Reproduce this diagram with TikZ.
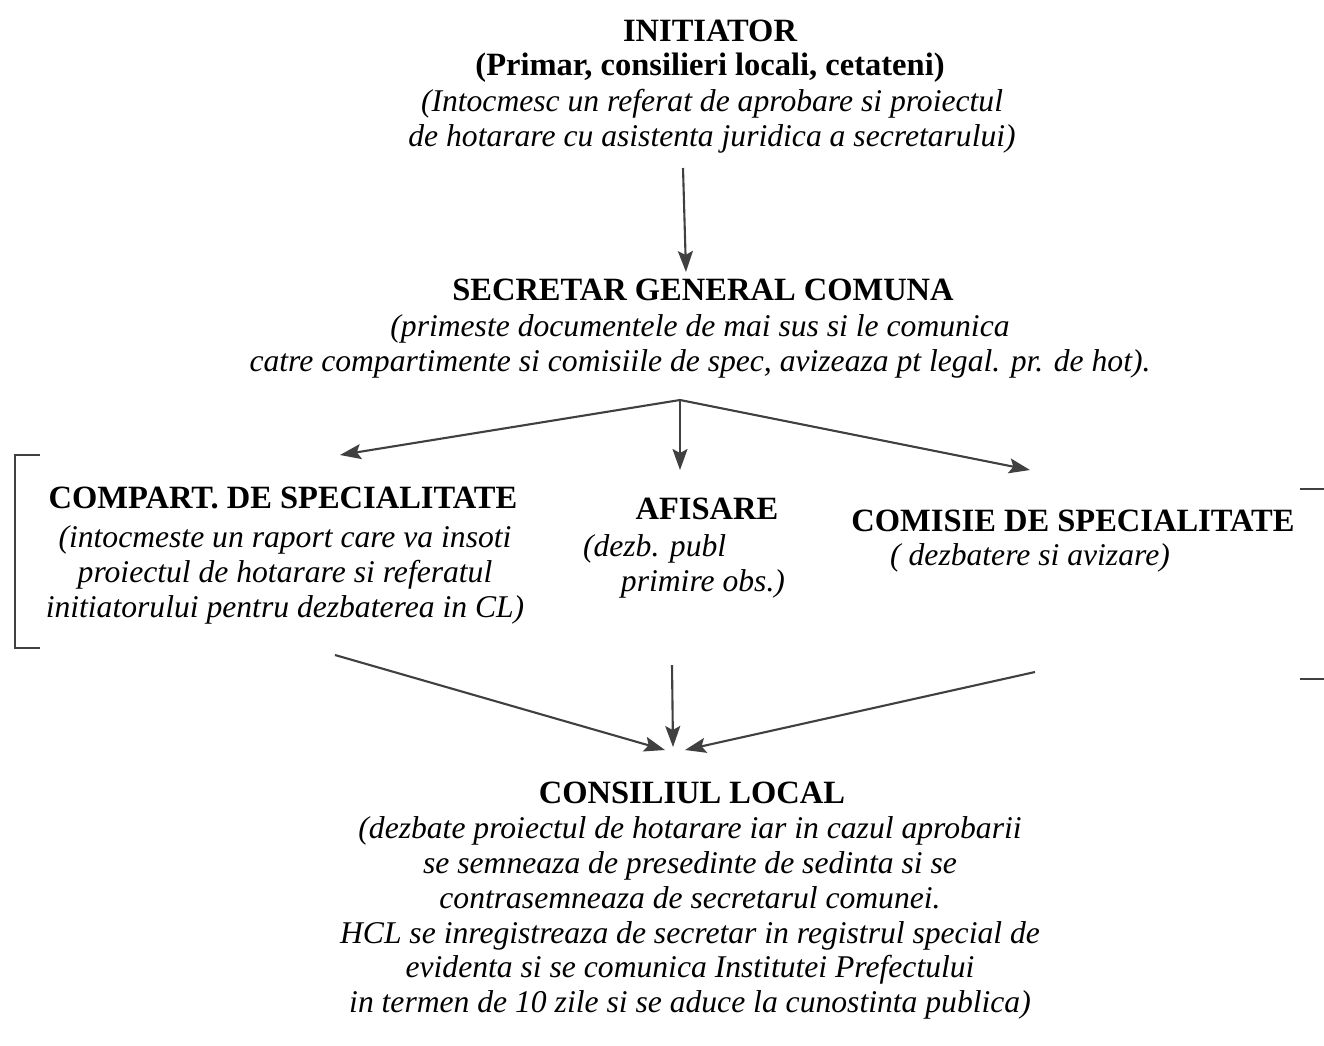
\documentclass[tikz,border=0pt]{standalone}
\usepackage{fontspec}
\setmainfont{Liberation Serif}
\usetikzlibrary{arrows.meta}
\begin{document}
\begin{tikzpicture}[
    x=0.02cm, y=-0.02cm,
    head/.style={font=\fontsize{18.5}{20}\selectfont\bfseries, inner sep=0pt},
    note/.style={font=\fontsize{18}{19.8}\selectfont\itshape, align=center, inner sep=0pt},
    arrow/.style={-{Stealth[length=4.2mm, width=3mm, inset=0.8mm]}, line width=1.2pt, draw=black!75},
    bracket/.style={line width=1.2pt, draw=black!75}
]
\useasboundingbox (0,0) rectangle (1324,1045);

% Initiator
\node[head] (init) at (710,31) {INITIATOR};
\node[head] (initsub) at (710,68) {(Primar, consilieri locali, cetateni)};
\node[note] (initnote) at (712,121) {(Intocmesc un referat de aprobare si proiectul\\de hotarare cu asistenta juridica a secretarului)};

% Secretar
\node[head] (secr) at (703,290) {SECRETAR GENERAL COMUNA};
\node[note] (secrnote) at (700,346) {(primeste documentele de mai sus si le comunica\\catre compartimente si comisiile de spec, avizeaza pt legal. pr. de hot).};

% Compartiment, afisare, comisie
\node[head] (comp) at (283,498) {COMPART. DE SPECIALITATE};
\node[note] (compnote) at (285,575) {(intocmeste un raport care va insoti\\proiectul de hotarare si referatul\\initiatorului pentru dezbaterea in CL)};
\node[head] (afis) at (707,509) {AFISARE};
\node[note, align=left] (afisnote) at (684,566) {(dezb. publ\\\hspace*{1.2em}primire obs.)};
\node[head] (comis) at (1073,521) {COMISIE DE SPECIALITATE};
\node[note] (comisnote) at (1030,558) {( dezbatere si avizare)};

% Consiliul local
\node[head] (cl) at (692,793) {CONSILIUL LOCAL};
\node[note] (clnote) at (690,918) {(dezbate proiectul de hotarare iar in cazul aprobarii\\se semneaza de presedinte de sedinta si se\\contrasemneaza de secretarul comunei.\\HCL se inregistreaza de secretar in registrul special de\\evidenta si se comunica Institutei Prefectului\\in termen de 10 zile si se aduce la cunostinta publica)};

% Arrow ends
\coordinate (initout) at (683,168);
\coordinate (secrin) at (686,272);
\coordinate (split) at (680,400);
\coordinate (compin) at (340,455);
\coordinate (afisin) at (680,470);
\coordinate (comisin) at (1030,470);
\coordinate (compout) at (335,655);
\coordinate (afisout) at (672,665);
\coordinate (comisout) at (1035,672);
\coordinate (clinl) at (665,750);
\coordinate (clinm) at (673,747);
\coordinate (clinr) at (685,750);

% Connections
\draw[arrow] (initout) -- (secrin);
\draw[arrow] (split) -- (compin);
\draw[arrow] (split) -- (afisin);
\draw[arrow] (split) -- (comisin);
\draw[arrow] (compout) -- (clinl);
\draw[arrow] (afisout) -- (clinm);
\draw[arrow] (comisout) -- (clinr);

% Brackets
\draw[bracket] (40,455) -- (15,455) -- (15,648) -- (40,648);
\draw[bracket] (1300,489) -- (1324,489);
\draw[bracket] (1300,679) -- (1324,679);

\end{tikzpicture}
\end{document}
